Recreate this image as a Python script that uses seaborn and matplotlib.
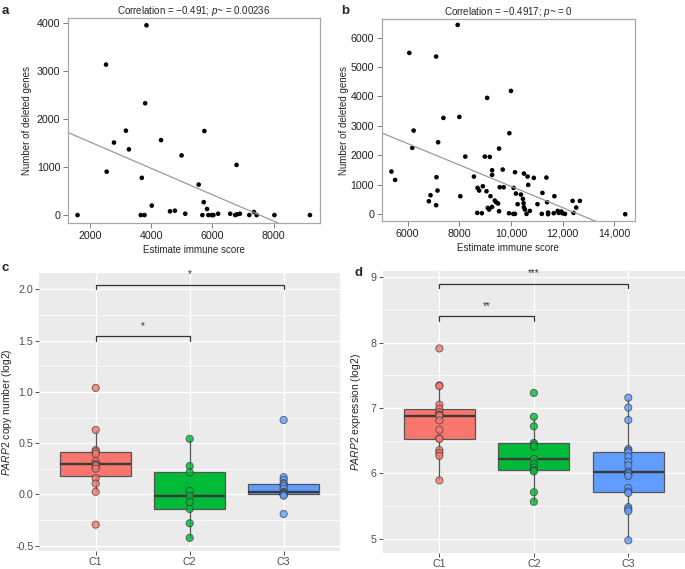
import numpy as np
import pandas as pd
import seaborn as sns
import matplotlib.pyplot as plt
from matplotlib.ticker import MultipleLocator, FuncFormatter

# a: estimate immune score vs number of deleted genes (cohort 1)
a_score = [1600, 2530, 2551, 2789, 3178, 3276, 3849, 3806, 3697, 3665, 3784, 4022,
           4324, 4616, 4778, 4994, 5113, 5552, 5738, 5716, 5825, 5672, 5869, 5978,
           6033, 6186, 6579, 6787, 6743, 6800, 6896, 7202, 7355, 7443, 8022, 9181]
a_deleted = [0, 3138, 905, 1512, 1760, 1371, 3957, 2332, 777, 0, 0, 198,
             1562, 78, 92, 1244, 28, 636, 1753, 269, 127, 0, 0, 0,
             0, 28, 28, 1046, 0, 14, 28, 0, 64, 0, 0, 0]

# b: same for cohort 2
b_score = [5372, 5513, 6064, 6179, 6231, 7103, 7179, 7115, 7154, 6885, 6820, 7103,
           7385, 7936, 8000, 8038, 8231, 8564, 8692, 8872, 8705, 8769, 8910, 8987,
           9051, 9077, 9179, 9205, 9269, 9269, 9372, 9423, 9500, 9102, 9154, 9269,
           9538, 9679, 9564, 9718, 9538, 9936, 10000, 10154, 10103, 9923, 10090, 10154,
           10192, 10256, 10384, 10461, 10487, 10500, 10538, 10602, 10730, 10500, 10641, 10666,
           10884, 11025, 11192, 11217, 11371, 11397, 11435, 11435, 11679, 11653, 11807, 11846,
           11948, 11986, 12089, 12384, 12525, 12666, 12422, 14422]
b_deleted = [1449, 1166, 5479, 2253, 2841, 5354, 2445, 1257, 804, 645, 441, 306,
             3271, 6430, 3305, 611, 1958, 1279, 45, 34, 894, 804, 951, 1958,
             781, 3951, 1947, 611, 1494, 1336, 464, 408, 362, 215, 158, 249,
             2230, 1517, 917, 917, 102, 2751, 4188, 1426, 894, 34, 11, 11,
             702, 340, 668, 521, 374, 238, 158, 11, 113, 1381, 1279, 996,
             1234, 340, 11, 724, 1245, 408, 57, 0, 611, 34, 113, 45,
             91, 34, 11, 453, 226, 453, 45, 0]

groups = ["C1", "C2", "C3"]
palette = {"C1": "#F8766D", "C2": "#00BA38", "C3": "#619CFF"}

# c: PARP2 copy number (log2)
cn_c1 = [1.039, 0.629, 0.432, 0.419, 0.397, 0.323, 0.297, 0.290, 0.277, 0.252,
         0.158, 0.106, 0.026, -0.294]
cn_c2 = [0.542, 0.277, 0.216, 0.035, -0.016, -0.074, -0.142, -0.281, -0.423]
cn_c3 = [0.726, 0.168, 0.142, 0.110, 0.100, 0.081, 0.055, 0.023, 0.018, 0.015,
         0.005, 0.0, -0.005, -0.012, -0.190]

# d: PARP2 expression (log2)
ex_c1 = [7.91, 7.346, 7.335, 7.05, 6.99, 6.94, 6.90, 6.888, 6.88, 6.81, 6.665,
         6.532, 6.527, 6.355, 6.314, 6.268, 5.892]
ex_c2 = [7.23, 6.865, 6.72, 6.465, 6.44, 6.41, 6.22, 6.14, 6.09, 6.05, 6.03,
         5.71, 5.565]
ex_c3 = [7.157, 7.005, 6.817, 6.371, 6.345, 6.32, 6.259, 6.178, 6.122, 6.03,
         6.01, 5.985, 5.96, 5.777, 5.721, 5.70, 5.482, 5.452, 5.421, 4.975]

# significance brackets: (group from, group to, height, label)
c_brackets = [("C1", "C2", 1.54, "*"), ("C1", "C3", 2.04, "*")]
d_brackets = [("C1", "C2", 8.40, "**"), ("C1", "C3", 8.90, "***")]

sns.set_style("white")
plt.rcParams["font.family"] = ["Liberation Sans", "DejaVu Sans"]
plt.rcParams["mathtext.fontset"] = "custom"
plt.rcParams["mathtext.rm"] = "Liberation Sans"
plt.rcParams["mathtext.it"] = "Liberation Sans:italic"
plt.rcParams["axes.unicode_minus"] = False

fig = plt.figure(figsize=(6.85, 5.69), dpi=100)
ax_a = fig.add_axes([0.0993, 0.6081, 0.3679, 0.3603])
ax_b = fig.add_axes([0.5572, 0.6116, 0.3698, 0.3550])
ax_c = fig.add_axes([0.0574, 0.0320, 0.4390, 0.4887])
ax_d = fig.add_axes([0.5587, 0.0285, 0.4413, 0.4958])


def scatter_panel(ax, x, y, xlim, ylim, xticks, yticks, title, label_x, comma=False):
    sns.scatterplot(x=x, y=y, ax=ax, color="black", s=11, edgecolor="none")
    ax.set_xlim(xlim)
    ax.set_ylim(ylim)
    sns.regplot(x=x, y=y, ax=ax, scatter=False, ci=None, truncate=False,
                line_kws={"color": "#9a9a9a", "lw": 0.9})
    ax.set_xlim(xlim)
    ax.set_ylim(ylim)
    ax.set_xticks(xticks)
    ax.set_yticks(yticks)
    if comma:
        ax.xaxis.set_major_formatter(FuncFormatter(
            lambda v, p: f"{int(v):,}" if v >= 10000 else f"{int(v)}"))
    for s in ax.spines.values():
        s.set_color("#a8a8a8")
        s.set_linewidth(0.9)
    ax.tick_params(axis="both", which="major", direction="out", length=3.5,
                   width=0.7, color="#808080", labelsize=7.7, labelcolor="#222222",
                   left=True, bottom=True, pad=2)
    ax.set_xlabel("Estimate immune score", fontsize=7, labelpad=3)
    ax.set_ylabel("Number of deleted genes", fontsize=7)
    ax.yaxis.set_label_coords(label_x, 0.5)
    ax.set_title(title, fontsize=7, pad=3)


scatter_panel(ax_a, a_score, a_deleted, (1290, 9510), (-165, 4110),
              [2000, 4000, 6000, 8000], [0, 1000, 2000, 3000, 4000],
              r"Correlation = −0.491; $\it{p}$~ = 0.00236", -0.143)
scatter_panel(ax_b, b_score, b_deleted, (4994, 14800), (-230, 6630),
              [6000, 8000, 10000, 12000, 14000], [0, 1000, 2000, 3000, 4000, 5000, 6000],
              r"Correlation = −0.4917; $\it{p}$~ = 0", -0.129, comma=True)


def box_panel(ax, values, ylim, ymajor, yminor, brackets, ylabel, label_x):
    df = pd.DataFrame({
        "group": np.repeat(groups, [len(v) for v in values]),
        "value": np.concatenate(values),
    })
    ax.set_facecolor("#EBEBEB")
    sns.boxplot(data=df, x="group", y="value", hue="group", order=groups,
                palette=palette, legend=False, ax=ax, width=0.75,
                showfliers=False, showcaps=False, saturation=1,
                linecolor="#555555", linewidth=0.9,
                medianprops={"linewidth": 1.7, "color": "#3a3a3a"})
    sns.stripplot(data=df, x="group", y="value", hue="group", order=groups,
                  palette=palette, legend=False, ax=ax, jitter=False, size=5.2,
                  linewidth=0.6, edgecolor="#3a3a3a", alpha=0.8, zorder=4)
    ax.set_xlim(-0.6, 2.6)
    ax.set_ylim(ylim)
    ax.yaxis.set_major_locator(MultipleLocator(ymajor))
    ax.yaxis.set_minor_locator(MultipleLocator(yminor))
    ax.set_axisbelow(True)
    ax.grid(True, which="major", color="white", linewidth=1.0)
    ax.grid(True, which="minor", axis="y", color="white", linewidth=0.5)
    for s in ax.spines.values():
        s.set_visible(False)
    ax.tick_params(axis="both", which="major", direction="out", length=2.8,
                   width=0.6, color="#333333", labelsize=7.7, labelcolor="#4D4D4D",
                   left=True, bottom=True, pad=1.5)
    ax.tick_params(axis="y", which="minor", length=0)
    ax.set_xlabel("")
    ax.set_ylabel(ylabel, fontsize=7.5)
    ax.yaxis.set_label_coords(label_x, 0.5)
    span = ylim[1] - ylim[0]
    for g1, g2, h, lab in brackets:
        x1, x2 = groups.index(g1), groups.index(g2)
        drop = span * 0.015
        ax.plot([x1, x1, x2, x2], [h - drop, h, h, h - drop], color="#333333",
                lw=0.9, zorder=5)
        ax.text((x1 + x2) / 2, h + span * 0.02, lab, ha="center", va="bottom",
                fontsize=7, color="#333333")


box_panel(ax_c, [cn_c1, cn_c2, cn_c3], (-0.549, 2.161), 0.5, 0.25, c_brackets,
          r"$\it{PARP2}$ copy number (log2)", -0.083)
ax_c.yaxis.set_major_formatter(FuncFormatter(lambda v, p: f"{v:.1f}"))
box_panel(ax_d, [ex_c1, ex_c2, ex_c3], (4.785, 9.10), 1, 0.5, d_brackets,
          r"$\it{PARP2}$ expression (log2)", -0.066)

for lab, (x, y) in zip("abcd", [(0.002, 0.992), (0.498, 0.992), (0.002, 0.54), (0.517, 0.530)]):
    fig.text(x, y, lab, fontsize=9.5, fontweight="bold", ha="left", va="top")

fig.savefig("out.png", dpi=100)
